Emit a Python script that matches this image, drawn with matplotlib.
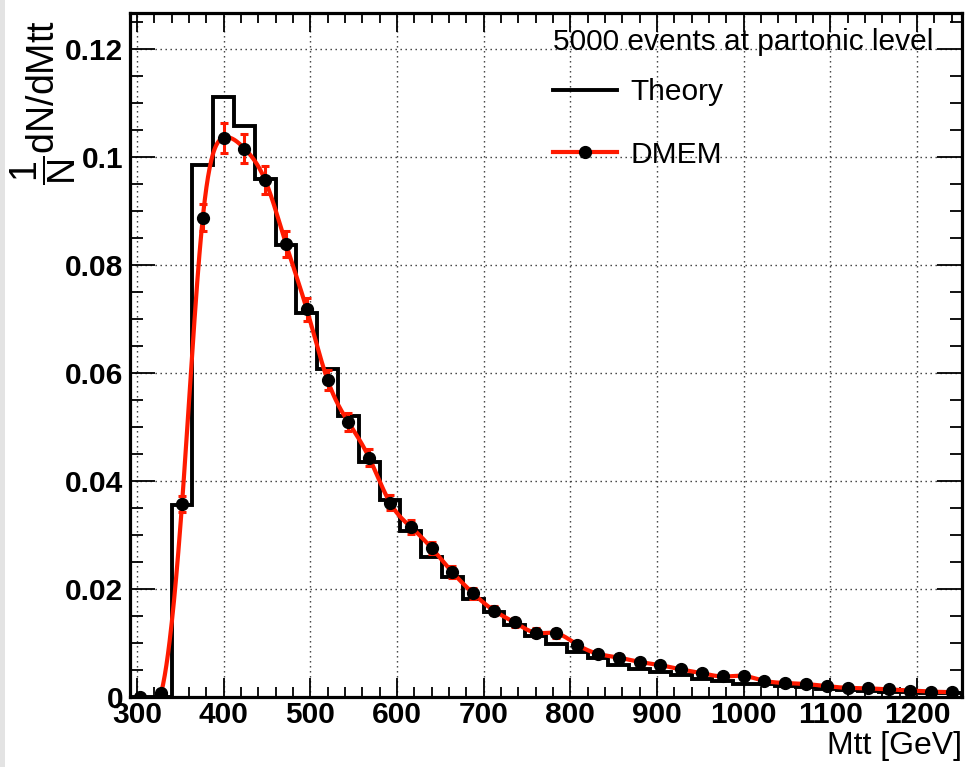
import numpy as np
import matplotlib
matplotlib.use("Agg")
import matplotlib.pyplot as plt
from matplotlib.lines import Line2D
from matplotlib.ticker import MultipleLocator, FuncFormatter
from matplotlib.patches import Rectangle

plt.rcParams['font.family'] = ['Liberation Sans', 'DejaVu Sans']
plt.rcParams['mathtext.fontset'] = 'custom'
plt.rcParams['mathtext.rm'] = 'Liberation Sans'
plt.rcParams['mathtext.it'] = 'Liberation Sans'
plt.rcParams['mathtext.bf'] = 'Liberation Sans:bold'

# ---------------- data ----------------
bin_edges = np.linspace(292, 1252, 41)          # 40 bins of 24 GeV
bin_centers = 0.5 * (bin_edges[:-1] + bin_edges[1:])

theory = [0.0, 0.0, 0.0356, 0.0985, 0.1112, 0.1058, 0.0959, 0.0838, 0.0712, 0.0607,
          0.0520, 0.0436, 0.0364, 0.0308, 0.0259, 0.0222, 0.0181, 0.0158, 0.0133, 0.0113,
          0.0099, 0.0084, 0.0073, 0.0059, 0.0051, 0.0046, 0.0040, 0.0034, 0.0030, 0.0025,
          0.0024, 0.0020, 0.0018, 0.0015, 0.0013, 0.0012, 0.0010, 0.0009, 0.0008, 0.0007]

dmem = [0.0, 0.0008, 0.0357, 0.0888, 0.1036, 0.1016, 0.0957, 0.0839, 0.0718, 0.0587,
        0.0509, 0.0443, 0.0360, 0.0315, 0.0276, 0.0231, 0.0192, 0.0160, 0.0138, 0.0119,
        0.0118, 0.0097, 0.0080, 0.0073, 0.0065, 0.0059, 0.0051, 0.0044, 0.0038, 0.0039,
        0.0030, 0.0026, 0.0024, 0.0020, 0.0017, 0.0016, 0.0014, 0.0012, 0.0010, 0.0009]

dmem_err = [0.0, 0.0003, 0.0015, 0.0025, 0.0028, 0.0027, 0.0026, 0.0024, 0.0022, 0.0019,
            0.0017, 0.0016, 0.0014, 0.0013, 0.0012, 0.0011, 0.0010, 0.0009, 0.0008, 0.0008,
            0.0008, 0.0007, 0.0006, 0.0006, 0.0006, 0.0005, 0.0005, 0.0005, 0.0004, 0.0004,
            0.0004, 0.0004, 0.0003, 0.0003, 0.0003, 0.0003, 0.0003, 0.0002, 0.0002, 0.0002]

x_label = "Mtt [GeV]"
y_label = r"$\dfrac{1}{N}$dN/dMtt"
legend_title = "5000 events at partonic level"
series_names = ["Theory", "DMEM"]


def natural_spline(x, y, xs):
    x = np.asarray(x, float); y = np.asarray(y, float)
    n = len(x)
    h = np.diff(x)
    A = np.zeros((n, n)); b = np.zeros(n)
    A[0, 0] = 1; A[-1, -1] = 1
    for i in range(1, n - 1):
        A[i, i - 1] = h[i - 1]
        A[i, i] = 2 * (h[i - 1] + h[i])
        A[i, i + 1] = h[i]
        b[i] = 3 * ((y[i + 1] - y[i]) / h[i] - (y[i] - y[i - 1]) / h[i - 1])
    c = np.linalg.solve(A, b)
    bb = (y[1:] - y[:-1]) / h - h * (2 * c[:-1] + c[1:]) / 3
    d = (c[1:] - c[:-1]) / (3 * h)
    idx = np.clip(np.searchsorted(x, xs) - 1, 0, n - 2)
    dx = xs - x[idx]
    return y[idx] + bb[idx] * dx + c[idx] * dx ** 2 + d[idx] * dx ** 3


W, H = 965, 767
RED = '#ff1a00'
fig = plt.figure(figsize=(W / 100, H / 100), dpi=100)
fig.patches.append(Rectangle((0, 0), 5 / W, 1, transform=fig.transFigure,
                             facecolor='#e3e3e3', edgecolor='none', zorder=0))
ax = fig.add_axes([130 / W, 1 - 697 / H, 832 / W, 684 / H])

ax.stairs(theory, bin_edges, color='black', lw=2.8, zorder=3, baseline=0)

xs = np.linspace(bin_centers[0], bin_centers[-1], 1500)
ax.plot(xs, natural_spline(bin_centers, dmem, xs), color=RED, lw=3.0, zorder=4)
ax.errorbar(bin_centers, dmem, yerr=dmem_err, fmt='none', ecolor=RED,
            elinewidth=2.2, capsize=3, capthick=2.2, zorder=4)
ax.plot(bin_centers, dmem, 'o', color='black', ms=8.5, zorder=5)

ax.set_xlim(bin_edges[0], bin_edges[-1])
ax.set_ylim(0, 0.1267)

ax.xaxis.set_major_locator(MultipleLocator(100))
ax.xaxis.set_minor_locator(MultipleLocator(20))
ax.yaxis.set_major_locator(MultipleLocator(0.02))
ax.yaxis.set_minor_locator(MultipleLocator(0.005))
ax.yaxis.set_major_formatter(FuncFormatter(lambda v, p: "%g" % round(v, 4)))

ax.tick_params(which='both', direction='in', top=True, right=True, width=1.3, colors='black')
ax.tick_params(axis='x', which='major', length=14, pad=3, labelsize=21.5)
ax.tick_params(axis='x', which='minor', length=7)
ax.tick_params(axis='y', which='major', length=18, pad=5, labelsize=21.5)
ax.tick_params(axis='y', which='minor', length=9)
for lab in ax.get_xticklabels() + ax.get_yticklabels():
    lab.set_fontweight('bold')

for s in ax.spines.values():
    s.set_linewidth(2.3)

ax.grid(True, which='major', color='#333333', linestyle=(0, (1, 2.6)), linewidth=1.0, zorder=1)

ax.set_xlabel(x_label, loc='right', fontsize=23)
ax.xaxis.set_label_coords(1.0, -0.05)
ax.set_ylabel(y_label, loc='top', fontsize=27)
ax.yaxis.set_label_coords(-0.062, 0.99)

handles = [Line2D([], [], color='black', lw=2.8),
           Line2D([], [], color=RED, lw=3.0, marker='o', mfc='black', mec='black', ms=8.5)]
leg = ax.legend(handles, series_names, title=legend_title, loc='upper left',
                bbox_to_anchor=((553 - 130) / 832, (697 - 28) / 684),
                frameon=False, fontsize=21.5, title_fontsize=21.5, borderpad=0,
                borderaxespad=0, handlelength=2.13, handletextpad=0.45,
                labelspacing=1.15, alignment='left')
leg._legend_box.sep = 22.5 * 72 / 100  # gap between title and first entry (points)

fig.savefig("out.png", dpi=100)
